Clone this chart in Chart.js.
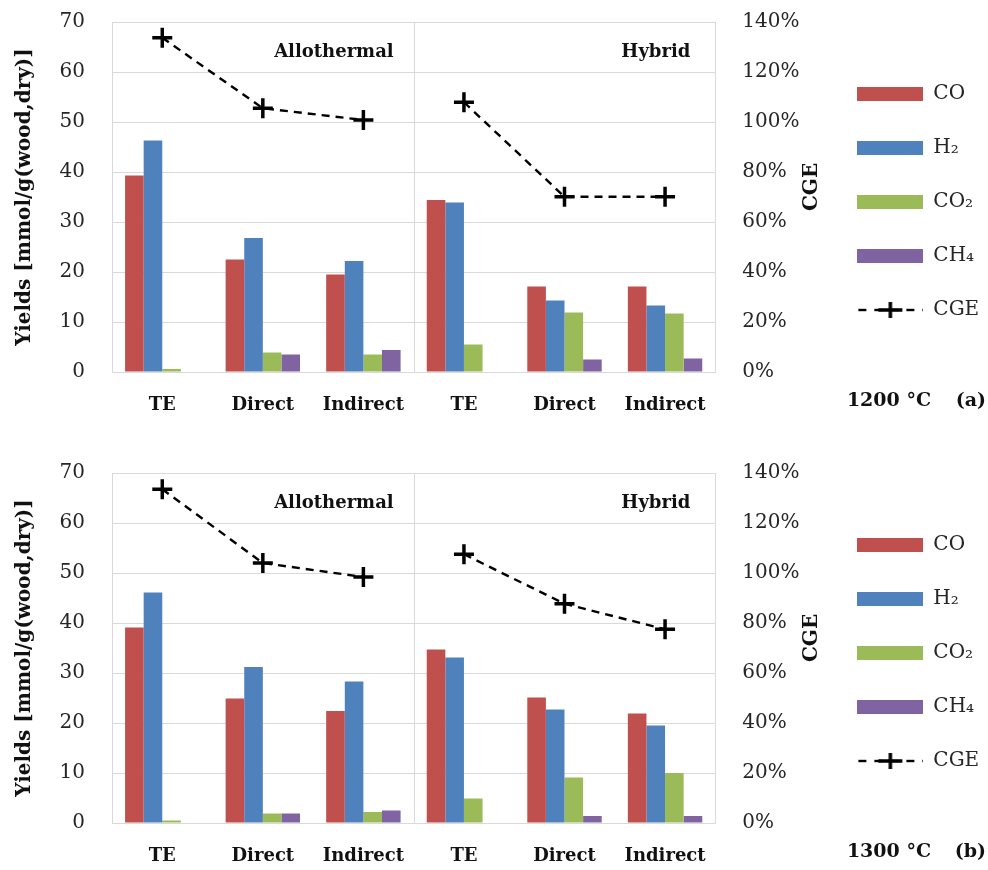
<!DOCTYPE html>
<html>
<head>
<meta charset="utf-8">
<script src="https://cdn.jsdelivr.net/npm/chart.js@4.4.1/dist/chart.umd.min.js"></script>
<style>
  body { margin: 0; background: #fff; width: 988px; height: 870px; position: relative; overflow: hidden; }
  canvas { position: absolute; left: 0; }
</style>
</head>
<body>
<canvas id="chartA" width="988" height="419" style="top:0px"></canvas>
<canvas id="chartB" width="988" height="419" style="top:451px"></canvas>
<script>
var categories = ['TE', 'Direct', 'Indirect', 'TE', 'Direct', 'Indirect'];
var groupNames = ['Allothermal', 'Hybrid'];
var seriesNames = ['CO', 'H₂', 'CO₂', 'CH₄', 'CGE'];
var yieldTicks = [0, 10, 20, 30, 40, 50, 60, 70];
var cgeTicks = [0, 20, 40, 60, 80, 100, 120, 140];

// (a) 1200 °C
var co1200  = [39.3, 22.5, 19.5, 34.4, 17.1, 17.1];
var h2_1200  = [46.3, 26.8, 22.2, 33.9, 14.3, 13.3];
var co2_1200 = [0.6, 3.9, 3.5, 5.5, 11.9, 11.7];
var ch4_1200 = [0, 3.5, 4.4, 0, 2.5, 2.7];
var cge1200 = [133.7, 105.5, 100.8, 107.9, 70.1, 70.1];

// (b) 1300 °C
var co1300  = [39.1, 24.9, 22.4, 34.7, 25.1, 21.9];
var h2_1300  = [46.1, 31.2, 28.3, 33.1, 22.7, 19.5];
var co2_1300 = [0.5, 1.9, 2.2, 4.9, 9.1, 10.0];
var ch4_1300 = [0, 1.9, 2.5, 0, 1.4, 1.4];
var cge1300 = [133.5, 104.0, 98.4, 107.5, 87.7, 77.5];

var barColors = ['#C0504D', '#4F81BD', '#9BBB59', '#8064A2'];
var serif = "'DejaVu Serif', serif";
var textColor = '#262626';
var gridColor = '#d9d9d9';

function swatch(color) {
    var c = document.createElement('canvas');
    c.width = 66; c.height = 14;
    var g = c.getContext('2d');
    g.fillStyle = color;
    g.fillRect(0, 0, 66, 14);
    return c;
}

function cgeSwatch() {
    var c = document.createElement('canvas');
    c.width = 66; c.height = 20;
    var g = c.getContext('2d');
    g.strokeStyle = '#000';
    g.lineWidth = 2.4;
    g.setLineDash([8, 8]);
    g.beginPath(); g.moveTo(1, 10); g.lineTo(66, 10); g.stroke();
    g.setLineDash([]);
    g.lineWidth = 3.5;
    g.beginPath();
    g.moveTo(21, 10); g.lineTo(45, 10);
    g.moveTo(33, 2); g.lineTo(33, 18);
    g.stroke();
    return c;
}

var legendImages = barColors.map(swatch).concat([cgeSwatch()]);

// divider between the two groups plus the text notes
var panelNotes = {
    id: 'panelNotes',
    beforeDatasetsDraw: function (chart) {
        var xs = chart.scales.x, area = chart.chartArea, ctx = chart.ctx;
        var mid = (xs.getPixelForValue(2) + xs.getPixelForValue(3)) / 2;
        ctx.save();
        ctx.strokeStyle = gridColor;
        ctx.lineWidth = 1;
        ctx.beginPath();
        ctx.moveTo(Math.round(mid) + 0.5, area.top);
        ctx.lineTo(Math.round(mid) + 0.5, area.bottom);
        ctx.stroke();
        ctx.restore();
    },
    afterDraw: function (chart, args, opts) {
        var xs = chart.scales.x, ys = chart.scales.y, area = chart.chartArea, ctx = chart.ctx;
        var mid = (xs.getPixelForValue(2) + xs.getPixelForValue(3)) / 2;
        var ty = ys.getPixelForValue(63);
        ctx.save();
        ctx.fillStyle = '#111';
        ctx.font = 'bold 18px ' + serif;
        ctx.textAlign = 'right';
        ctx.textBaseline = 'alphabetic';
        ctx.fillText(groupNames[0], mid - 20, ty);
        ctx.fillText(groupNames[1], area.right - 25, ty);

        // right axis title, reading bottom to top
        ctx.save();
        ctx.translate(812, (area.top + area.bottom) / 2 - 10);
        ctx.rotate(-Math.PI / 2);
        ctx.textAlign = 'center';
        ctx.textBaseline = 'middle';
        ctx.font = 'bold 20px ' + serif;
        ctx.fillText('CGE', 0, 0);
        ctx.restore();

        ctx.textBaseline = 'middle';
        ctx.font = 'bold 19px ' + serif;
        ctx.fillText(opts.temp, 931, area.bottom + 29);
        ctx.fillText(opts.panel, 986, area.bottom + 29);
        ctx.restore();
    }
};

function fixPadding(s, w) {
    s.width = w;
    s.paddingTop = 12;
    s.paddingBottom = 12;
}

function makeChart(id, co, h2, co2, ch4, cge, temp, panel) {
    var ctx = document.getElementById(id).getContext('2d');
    var bars = [co, h2, co2, ch4].map(function (vals, i) {
        return {
            type: 'bar',
            label: seriesNames[i],
            data: vals,
            backgroundColor: barColors[i],
            borderWidth: 0,
            yAxisID: 'y',
            categoryPercentage: 0.74,
            barPercentage: 1
        };
    });
    var line = {
        type: 'line',
        label: seriesNames[4],
        data: cge,
        yAxisID: 'y2',
        borderColor: '#000',
        borderWidth: 2.4,
        borderDash: [8, 6],
        pointStyle: 'cross',
        pointRadius: 10,
        pointBorderWidth: 3.5,
        pointBorderColor: '#000',
        fill: false,
        tension: 0,
        segment: {
            // no line between the Allothermal and Hybrid groups
            borderColor: function (c) { return c.p0DataIndex === 2 ? 'rgba(0,0,0,0)' : '#000'; }
        }
    };

    return new Chart(ctx, {
        data: {
            labels: categories,
            datasets: bars.concat([line])
        },
        options: {
            responsive: false,
            animation: false,
            devicePixelRatio: 1,
            events: [],
            layout: { padding: { top: 22, left: 0, right: 0, bottom: 0 } },
            scales: {
                x: {
                    grid: { display: false, drawTicks: false },
                    border: { display: false },
                    ticks: {
                        color: '#111',
                        padding: 23,
                        maxRotation: 0,
                        autoSkip: false,
                        font: { family: serif, size: 18, weight: 'bold' }
                    },
                    afterFit: function (s) { s.height = 47; }
                },
                y: {
                    position: 'left',
                    min: 0,
                    max: 70,
                    afterBuildTicks: function (s) {
                        s.ticks = yieldTicks.map(function (v) { return { value: v }; });
                    },
                    grid: { color: gridColor, drawTicks: false },
                    border: { display: true, color: gridColor },
                    ticks: {
                        color: textColor,
                        padding: 27,
                        font: { family: serif, size: 20 }
                    },
                    title: {
                        display: true,
                        text: 'Yields [mmol/g(wood,dry)]',
                        color: '#111',
                        padding: { top: 13, bottom: 0 },
                        font: { family: serif, size: 20, weight: 'bold' }
                    },
                    afterFit: function (s) { fixPadding(s, 112); }
                },
                y2: {
                    position: 'right',
                    min: 0,
                    max: 140,
                    afterBuildTicks: function (s) {
                        s.ticks = cgeTicks.map(function (v) { return { value: v }; });
                    },
                    grid: { display: false, drawTicks: false },
                    border: { display: true, color: gridColor },
                    ticks: {
                        color: textColor,
                        padding: 27,
                        font: { family: serif, size: 20 },
                        callback: function (v) { return v + '%'; }
                    },
                    afterFit: function (s) { fixPadding(s, 108); }
                }
            },
            plugins: {
                legend: {
                    position: 'right',
                    align: 'center',
                    fullSize: false,
                    title: { display: true, text: ' ', padding: 0, font: { size: 8, lineHeight: 1.25 } },
                    labels: {
                        usePointStyle: true,
                        pointStyleWidth: 66,
                        boxHeight: 14,
                        padding: 34,
                        color: textColor,
                        font: { family: serif, size: 20 },
                        generateLabels: function (chart) {
                            var items = Chart.defaults.plugins.legend.labels.generateLabels(chart);
                            return items.map(function (it, i) {
                                it.pointStyle = legendImages[i];
                                return it;
                            });
                        }
                    }
                },
                tooltip: { enabled: false },
                panelNotes: { temp: temp, panel: panel }
            }
        },
        plugins: [panelNotes]
    });
}

makeChart('chartA', co1200, h2_1200, co2_1200, ch4_1200, cge1200, '1200 °C', '(a)');
makeChart('chartB', co1300, h2_1300, co2_1300, ch4_1300, cge1300, '1300 °C', '(b)');
</script>
</body>
</html>
